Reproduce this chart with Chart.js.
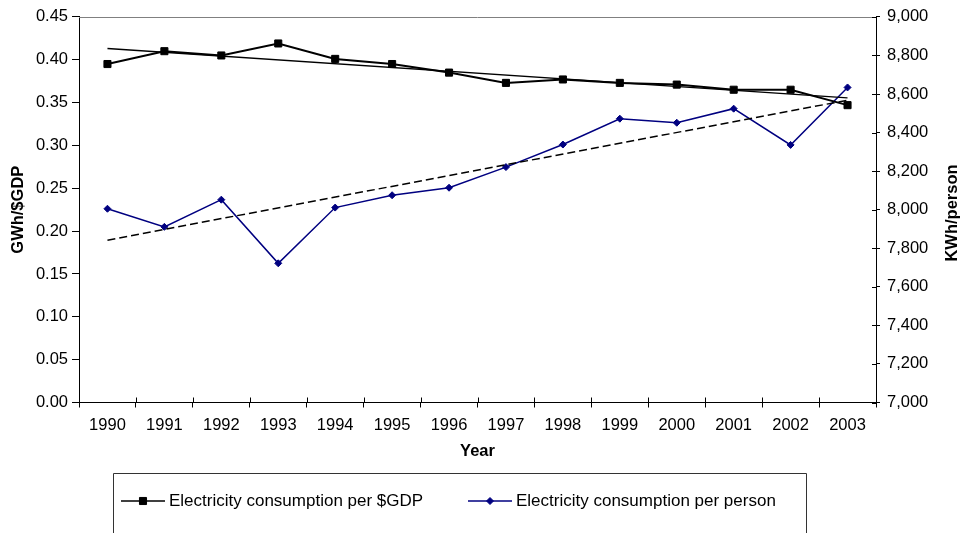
<!DOCTYPE html>
<html>
<head>
<meta charset="utf-8">
<script src="https://cdn.jsdelivr.net/npm/chart.js@4/dist/chart.umd.min.js"></script>
<style>
  html, body { margin: 0; padding: 0; background: #fff; }
  #wrap { width: 961px; height: 533px; position: relative; }
</style>
</head>
<body>
<div id="wrap"><canvas id="chart" width="961" height="533"></canvas></div>
<script>
// Electricity intensity of the economy vs. electricity use per person, 1990-2003
const years = ['1990','1991','1992','1993','1994','1995','1996','1997','1998','1999','2000','2001','2002','2003'];
const gwhPerGdp = [0.395, 0.410, 0.405, 0.419, 0.401, 0.395, 0.385, 0.373, 0.377, 0.373, 0.371, 0.365, 0.365, 0.347];
const kwhPerPerson = [8005, 7911, 8052, 7722, 8011, 8075, 8114, 8221, 8338, 8472, 8451, 8524, 8336, 8634];
// linear trend lines: value at first and last year
const gdpTrend = [0.4132, 0.3555];
const personTrend = [7842, 8568];
// axis ranges
const leftAxis = { min: 0, max: 0.45, step: 0.05 };
const rightAxis = { min: 7000, max: 9000, step: 200 };

const FONT = "'Liberation Sans', Arial, Helvetica, sans-serif";
Chart.defaults.color = '#000';
Chart.defaults.font.family = FONT;
Chart.defaults.font.size = 16.5;

const NAVY = '#000080';

// plot frame: grey top edge, inner halves of the crossing tick marks, right axis title
const framePlugin = {
  id: 'frame',
  afterDraw(chart) {
    const { ctx, chartArea: a, scales } = chart;
    ctx.save();
    ctx.lineWidth = 1;
    ctx.strokeStyle = '#808080';
    ctx.beginPath();
    ctx.moveTo(a.left, Math.round(a.top) + 0.5);
    ctx.lineTo(a.right, Math.round(a.top) + 0.5);
    ctx.stroke();

    ctx.strokeStyle = '#000';
    ctx.beginPath();
    const x = scales.x;
    const n = x.ticks.length;
    for (let i = 0; i <= n; i++) {
      const px = Math.round(x.getPixelForDecimal(i / n)) + 0.5;
      ctx.moveTo(px, a.bottom);
      ctx.lineTo(px, a.bottom - 5);
    }
    const yr = scales.yRight;
    yr.ticks.forEach(t => {
      const py = Math.round(yr.getPixelForValue(t.value)) + 0.5;
      ctx.moveTo(a.right, py);
      ctx.lineTo(a.right - 4, py);
    });
    ctx.stroke();

    // right-hand axis title, reading bottom to top
    ctx.font = 'bold 16.5px ' + FONT;
    ctx.fillStyle = '#000';
    ctx.textAlign = 'center';
    ctx.textBaseline = 'middle';
    ctx.translate(952, 213);
    ctx.rotate(-Math.PI / 2);
    ctx.fillText('KWh/person', 0, 0);
    ctx.restore();
  }
};

// marker for a legend entry, styled like the dataset's points
const legendMarker = (ctx, d, x, y) => {
  ctx.fillStyle = d.pointBackgroundColor;
  ctx.strokeStyle = d.pointBorderColor;
  ctx.lineWidth = d.pointBorderWidth;
  Chart.helpers.drawPoint(ctx, { pointStyle: d.pointStyle, radius: d.pointRadius, borderWidth: d.pointBorderWidth }, x, y);
};

// boxed legend below the axis: line with a marker, then the series name
const boxLegendPlugin = {
  id: 'boxLegend',
  afterDraw(chart) {
    const { ctx } = chart;
    const items = chart.data.datasets.filter(d => d.inLegend);
    ctx.save();
    ctx.strokeStyle = '#333';
    ctx.lineWidth = 1;
    ctx.beginPath();
    ctx.moveTo(113.5, 545);
    ctx.lineTo(113.5, 473.5);
    ctx.lineTo(806.5, 473.5);
    ctx.lineTo(806.5, 545);
    ctx.stroke();

    const starts = [121, 468];
    const y = 501;
    ctx.font = '17px ' + FONT;
    ctx.textBaseline = 'middle';
    ctx.textAlign = 'left';
    items.forEach((d, i) => {
      const x0 = starts[i];
      ctx.strokeStyle = d.borderColor;
      ctx.lineWidth = 1.5;
      ctx.beginPath();
      ctx.moveTo(x0, y);
      ctx.lineTo(x0 + 44, y);
      ctx.stroke();
      legendMarker(ctx, d, x0 + 22, y);
      ctx.fillStyle = '#000';
      ctx.fillText(d.label, x0 + 48, y);
    });
    ctx.restore();
  }
};

const trendPoints = ends => [{ x: years[0], y: ends[0] }, { x: years[years.length - 1], y: ends[1] }];

new Chart(document.getElementById('chart'), {
  type: 'line',
  data: {
    labels: years,
    datasets: [
      {
        label: 'Linear trend per $GDP',
        data: trendPoints(gdpTrend),
        yAxisID: 'yLeft',
        borderColor: '#000',
        borderWidth: 1.5,
        pointRadius: 0,
        inLegend: false
      },
      {
        label: 'Linear trend per person',
        data: trendPoints(personTrend),
        yAxisID: 'yRight',
        borderColor: '#000',
        borderWidth: 1.5,
        borderDash: [8, 4],
        pointRadius: 0,
        inLegend: false
      },
      {
        label: 'Electricity consumption per $GDP',
        data: gwhPerGdp,
        yAxisID: 'yLeft',
        borderColor: '#000',
        borderWidth: 2,
        pointStyle: 'rect',
        pointRadius: 5,
        pointBorderWidth: 1,
        pointBackgroundColor: '#000',
        pointBorderColor: '#000',
        inLegend: true
      },
      {
        label: 'Electricity consumption per person',
        data: kwhPerPerson,
        yAxisID: 'yRight',
        borderColor: NAVY,
        borderWidth: 1.5,
        pointStyle: 'rectRot',
        pointRadius: 3.5,
        pointBorderWidth: 1,
        pointBackgroundColor: NAVY,
        pointBorderColor: NAVY,
        inLegend: true
      }
    ]
  },
  options: {
    responsive: false,
    animation: false,
    events: [],
    elements: { line: { tension: 0 } },
    layout: { padding: { top: 15, bottom: 63, left: 0, right: 0 } },
    plugins: {
      legend: { display: false },
      tooltip: { enabled: false }
    },
    scales: {
      x: {
        type: 'category',
        offset: true,
        grid: { offset: true, drawOnChartArea: false, drawTicks: true, tickLength: 5, color: '#000' },
        border: { display: true, color: '#000', width: 1 },
        ticks: { padding: 8, maxRotation: 0, autoSkip: false, font: { size: 16.5 } },
        title: { display: true, text: 'Year', font: { size: 16.5, weight: 'bold' }, padding: { top: 0, bottom: 9 } },
        afterFit(s) { s.height = 67.5; }
      },
      yLeft: {
        position: 'left',
        min: leftAxis.min,
        max: leftAxis.max,
        grid: { drawOnChartArea: false, drawTicks: true, tickLength: 7, color: '#000' },
        border: { display: true, color: '#000', width: 1 },
        ticks: { stepSize: leftAxis.step, padding: 4, callback: v => v.toFixed(2) },
        title: { display: true, text: 'GWh/$GDP', font: { size: 16.5, weight: 'bold' }, padding: { top: 9, bottom: 0 } },
        afterFit(s) { s.width = 79; }
      },
      yRight: {
        position: 'right',
        min: rightAxis.min,
        max: rightAxis.max,
        grid: { drawOnChartArea: false, drawTicks: true, tickLength: 4, color: '#000' },
        border: { display: true, color: '#000', width: 1 },
        ticks: { stepSize: rightAxis.step, padding: 7, callback: v => v.toLocaleString('en-US') },
        afterFit(s) { s.width = 85; }
      }
    }
  },
  plugins: [framePlugin, boxLegendPlugin]
});
</script>
</body>
</html>
